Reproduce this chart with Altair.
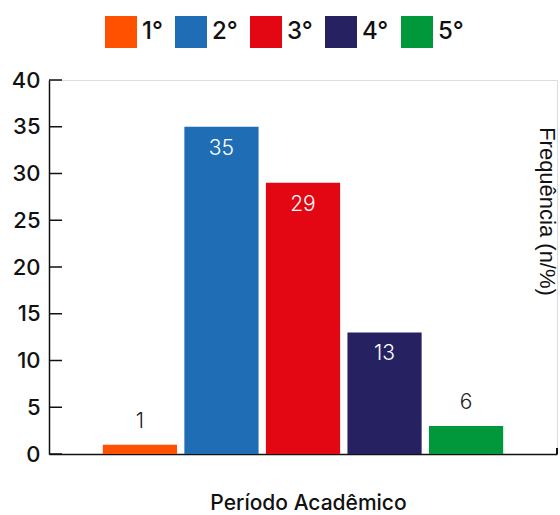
import altair as alt
import pandas as pd

periods = ["1°", "2°", "3°", "4°", "5°"]
values = [1, 35, 29, 13, 3]
labels = ["1", "35", "29", "13", "6"]
inside = [False, True, True, True, False]
colors = ["#FF5100", "#1F6EB5", "#E30613", "#262262", "#00983A"]
y_ticks = [0, 5, 10, 15, 20, 25, 30, 35, 40]

FONT = "Inter"

df = pd.DataFrame({"periodo": periods, "valor": values, "rotulo": labels, "dentro": inside})
ticks_df = pd.DataFrame({"t": y_ticks})

x_enc = alt.X(
    "periodo:N",
    sort=periods,
    scale=alt.Scale(paddingInner=0.09, paddingOuter=0.66),
    axis=alt.Axis(
        title="Período Acadêmico",
        labels=False,
        ticks=False,
        domainColor="#111111",
        domainWidth=1.5,
        titleFont=FONT,
        titleFontSize=21,
        titleFontWeight=500,
        titleColor="#111111",
        titlePadding=38,
        titleX=259,
        titleAlign="center",
    ),
)

y_scale = alt.Scale(domain=[0, 40], nice=False)

bars = alt.Chart(df).mark_bar().encode(
    x=x_enc,
    y=alt.Y(
        "valor:Q",
        scale=y_scale,
        axis=alt.Axis(
            values=y_ticks,
            grid=False,
            ticks=False,
            domainColor="#111111",
            domainWidth=1.5,
            labelFont=FONT,
            labelFontSize=22,
            labelFontWeight=500,
            labelColor="#111111",
            labelPadding=9,
            title="Frequência (n/%)",
            titleFont="Liberation Sans",
            titleFontSize=22,
            titleFontWeight="normal",
            titleColor="#111111",
            titleAngle=90,
            titleX=497,
            titleY=131,
            titleAlign="center",
            titleBaseline="middle",
        ),
    ),
    color=alt.Color(
        "periodo:N",
        sort=periods,
        scale=alt.Scale(domain=periods, range=colors),
        legend=alt.Legend(
            title=None,
            orient="none",
            direction="horizontal",
            legendX=56,
            legendY=-64,
            padding=0,
            symbolType="square",
            symbolSize=1024,
            symbolStrokeWidth=0,
            symbolOpacity=1,
            labelFont=FONT,
            labelFontSize=24,
            labelFontWeight=500,
            labelColor="#111111",
            labelOffset=5,
            columnPadding=12,
        ),
    ),
)

text_in = alt.Chart(df).transform_filter("datum.dentro").mark_text(
    font=FONT, fontSize=21, fontWeight=300, color="white", baseline="middle", dy=22
).encode(x=alt.X("periodo:N", sort=periods), y=alt.Y("valor:Q", scale=y_scale), text="rotulo:N")

text_out = alt.Chart(df).transform_filter("!datum.dentro").mark_text(
    font=FONT, fontSize=21, fontWeight=300, color="#222222", baseline="middle", dy=-23
).encode(x=alt.X("periodo:N", sort=periods), y=alt.Y("valor:Q", scale=y_scale), text="rotulo:N")

tick_rules = alt.Chart(ticks_df).mark_rule(color="#111111", strokeWidth=1.5).encode(
    x=alt.value(0), x2=alt.value(13), y=alt.Y("t:Q", scale=y_scale)
)

end_tick = alt.Chart(df).mark_rule(color="#111111", strokeWidth=1.5).encode(
    x=alt.value(508), y=alt.value(368), y2=alt.value(374)
)

chart = alt.layer(bars, tick_rules, end_tick, text_in, text_out).properties(
    width=508,
    height=374,
    autosize=alt.AutoSizeParams(type="none"),
    padding={"left": 49, "top": 80, "right": 3, "bottom": 61},
).configure_view(stroke=None).configure(background="white")

chart.save("out.html", embed_options={"renderer": "svg", "actions": False})
